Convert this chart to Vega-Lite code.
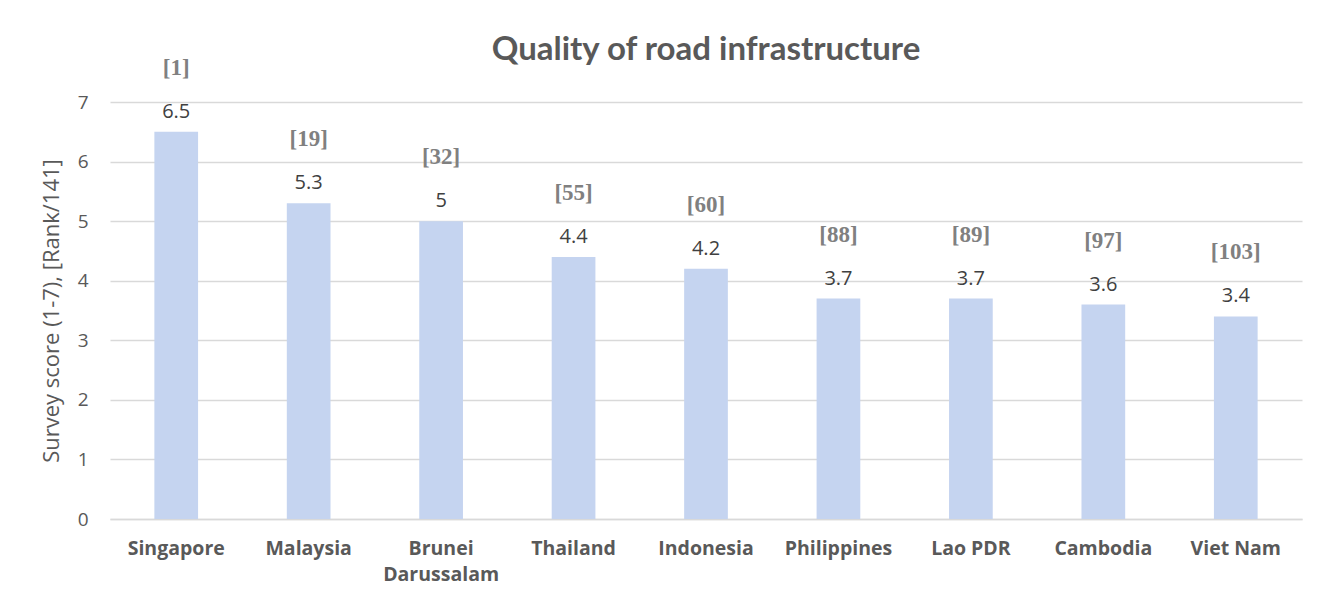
{
  "$schema": "https://vega.github.io/schema/vega-lite/v6.json",
  "autosize": {"type": "none"},
  "width": 1192,
  "height": 417,
  "padding": {"left": 110, "top": 102, "right": 27, "bottom": 90},
  "background": "white",
  "title": {
    "text": "Quality of road infrastructure",
    "font": "Lato",
    "fontSize": 33,
    "fontWeight": "bold",
    "color": "#595959",
    "anchor": "middle",
    "offset": -10
  },
  "data": {
    "values": [
      {"country": "Singapore", "score": 6.5, "rank": "[1]"},
      {"country": "Malaysia", "score": 5.3, "rank": "[19]"},
      {"country": "Brunei Darussalam", "score": 5, "rank": "[32]"},
      {"country": "Thailand", "score": 4.4, "rank": "[55]"},
      {"country": "Indonesia", "score": 4.2, "rank": "[60]"},
      {"country": "Philippines", "score": 3.7, "rank": "[88]"},
      {"country": "Lao PDR", "score": 3.7, "rank": "[89]"},
      {"country": "Cambodia", "score": 3.6, "rank": "[97]"},
      {"country": "Viet Nam", "score": 3.4, "rank": "[103]"}
    ]
  },
  "encoding": {
    "x": {
      "field": "country",
      "type": "nominal",
      "sort": null,
      "scale": {"paddingInner": 0.67, "paddingOuter": 0.335},
      "axis": {
        "title": null,
        "labelAngle": 0,
        "labelFont": "Open Sans",
        "labelFontSize": 19.5,
        "labelFontWeight": "bold",
        "labelColor": "#595959",
        "labelPadding": 20,
        "labelLineHeight": 26,
        "labelExpr": "datum.label == 'Brunei Darussalam' ? ['Brunei', 'Darussalam'] : datum.label",
        "ticks": false,
        "domainColor": "#d9d9d9",
        "domainWidth": 1.5,
        "grid": false
      }
    },
    "y": {
      "field": "score",
      "type": "quantitative",
      "scale": {"domain": [0, 7]},
      "axis": {
        "title": "Survey score (1-7), [Rank/141]",
        "titleFont": "Open Sans",
        "titleFontSize": 22,
        "titleFontWeight": "normal",
        "titleColor": "#595959",
        "titlePadding": 14,
        "labelFont": "Open Sans",
        "labelFontSize": 19,
        "labelColor": "#595959",
        "labelPadding": 22,
        "labelOverlap": false,
        "values": [0, 1, 2, 3, 4, 5, 6, 7],
        "ticks": false,
        "domain": false,
        "gridColor": "#d9d9d9",
        "gridWidth": 1.5
      }
    }
  },
  "layer": [
    {"mark": {"type": "bar", "color": "#c5d4f0"}},
    {
      "mark": {"type": "text", "baseline": "bottom", "dy": -10, "font": "Open Sans", "fontSize": 20, "color": "#404040"},
      "encoding": {"text": {"field": "score", "type": "quantitative"}}
    },
    {
      "mark": {"type": "text", "baseline": "bottom", "dy": -52, "font": "Liberation Serif", "fontSize": 23, "fontWeight": "bold", "color": "#808080"},
      "encoding": {"text": {"field": "rank", "type": "nominal"}}
    }
  ],
  "config": {"view": {"stroke": null}}
}
